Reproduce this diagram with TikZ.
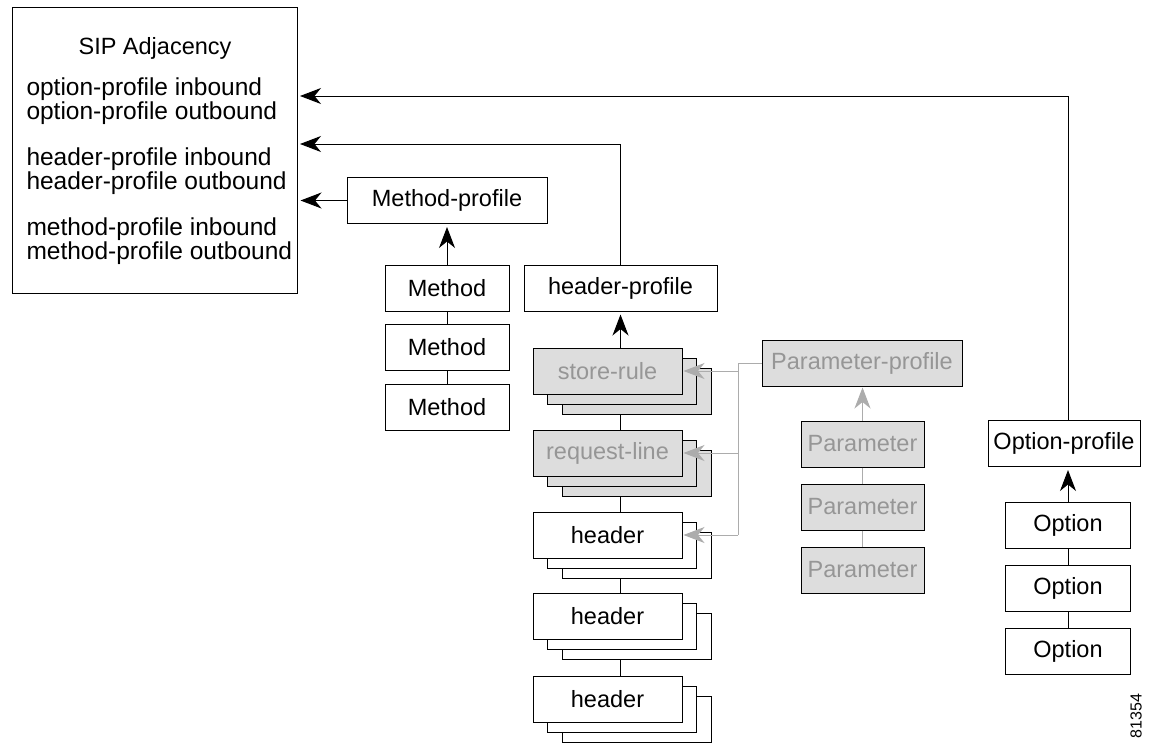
\documentclass[tikz,border=0pt]{standalone}
\usepackage{fontspec}
\setmainfont{Liberation Sans}
\usetikzlibrary{arrows.meta,positioning}

\definecolor{boxgrey}{RGB}{221,221,221}
\definecolor{txtgrey}{RGB}{150,150,150}
\definecolor{linegrey}{RGB}{172,172,172}

\tikzset{
  blk/.style={draw,fill=white,inner sep=0pt,minimum height=46pt},
  gblk/.style={blk,fill=boxgrey,text=txtgrey},
  arr/.style={-{Stealth[length=21pt,width=16pt,inset=6.5pt]},shorten >=3pt},
  garr/.style={arr,linegrey,shorten >=1pt},
  sipline/.style={align=left,anchor=west,inner sep=0pt,font=\fontsize{24.5}{22}\selectfont}
}

\begin{document}
\begin{tikzpicture}[x=1pt,y=-1pt,line width=1pt,font=\fontsize{23.5}{22}\selectfont]
\useasboundingbox (0,0) rectangle (1156,744);

% SIP Adjacency
\node[draw,minimum width=285pt,minimum height=286pt] (sip) at (154.5,150) {};
\node (siptitle) at (155,48) {SIP Adjacency};
\node[sipline] (sipopt) at (26,101) {option-profile inbound\\option-profile outbound};
\node[sipline] (siphdr) at (26,171) {header-profile inbound\\header-profile outbound};
\node[sipline] (sipmth) at (26,241) {method-profile inbound\\method-profile outbound};
\coordinate (optin) at (297,96);
\coordinate (hdrin) at (297,144);

% methods
\node[blk,minimum width=200pt] (mprof) at (447,200.5) {Method-profile};
\node[blk,minimum width=124pt] (m1) at (447,288) {Method};
\node[blk,minimum width=124pt] (m2) [below=12.5pt of m1] {Method};
\node[blk,minimum width=124pt] (m3) [below=12.5pt of m2] {Method};

% headers
\node[blk,minimum width=193pt] (hprof) at (620.5,288) {header-profile};

\node[gblk,minimum width=149pt] (sr3) at (636.5,391) {};
\node[gblk,minimum width=149pt] (sr2) at ([shift={(-14.5,-10)}]sr3) {};
\node[gblk,minimum width=149pt] (sr) at ([shift={(-14.5,-10)}]sr2) {store-rule};

\node[gblk,minimum width=149pt] (rl3) at (636.5,473) {};
\node[gblk,minimum width=149pt] (rl2) at ([shift={(-14.5,-10)}]rl3) {};
\node[gblk,minimum width=149pt] (rl) at ([shift={(-14.5,-10)}]rl2) {request-line};

\node[blk,minimum width=149pt] (ha3) at (636.5,555) {};
\node[blk,minimum width=149pt] (ha2) at ([shift={(-14.5,-10)}]ha3) {};
\node[blk,minimum width=149pt] (ha) at ([shift={(-14.5,-10)}]ha2) {header};

\node[blk,minimum width=149pt] (hb3) at (636.5,636.5) {};
\node[blk,minimum width=149pt] (hb2) at ([shift={(-14.5,-10)}]hb3) {};
\node[blk,minimum width=149pt] (hb) at ([shift={(-14.5,-10)}]hb2) {header};

\node[blk,minimum width=149pt] (hc3) at (636.5,719) {};
\node[blk,minimum width=149pt] (hc2) at ([shift={(-14.5,-10)}]hc3) {};
\node[blk,minimum width=149pt] (hc) at ([shift={(-14.5,-10)}]hc2) {header};

% parameters
\node[gblk,minimum width=200pt] (pprof) at (862,363) {Parameter-profile};
\node[gblk,minimum width=123pt] (p1) at (862.5,444) {Parameter};
\node[gblk,minimum width=123pt] (p2) [below=16pt of p1] {Parameter};
\node[gblk,minimum width=123pt] (p3) [below=16pt of p2] {Parameter};
\coordinate (bus) at (738,0);

% options
\node[blk,minimum width=152pt] (oprof) at (1064,443.5) {Option-profile};
\node[blk,minimum width=125pt] (o1) at (1068,525) {Option};
\node[blk,minimum width=125pt] (o2) [below=16pt of o1] {Option};
\node[blk,minimum width=125pt] (o3) [below=16pt of o2] {Option};

\node[rotate=90,inner sep=0pt,font=\fontsize{16}{16}\selectfont] (figno) at (1136,716) {81354};

% connectors
\draw[arr] (oprof.north -| o1.north) |- (optin);
\draw[arr] (hprof.north) |- (hdrin);
\draw[arr] (mprof.west) -- (mprof.west -| sip.east);
\draw[arr] (m1.north) -- (mprof.south);
\draw (m1) -- (m2);
\draw (m2) -- (m3);
\draw[arr] (hprof.south |- sr.north) -- (hprof.south);
\draw (hprof.south |- sr3.south) -- (hprof.south |- rl.north);
\draw (hprof.south |- rl3.south) -- (hprof.south |- ha.north);
\draw (hprof.south |- ha3.south) -- (hprof.south |- hb.north);
\draw (hprof.south |- hb3.south) -- (hprof.south |- hc.north);
\draw[arr] (o1.north) -- (oprof.south -| o1.north);
\draw (o1) -- (o2);
\draw (o2) -- (o3);
\draw[garr] (p1.north) -- (pprof.south -| p1.north);
\draw[linegrey] (p1) -- (p2);
\draw[linegrey] (p2) -- (p3);
\draw[linegrey] (pprof.west) -| (ha.east -| bus);
\draw[garr] (sr.east -| bus) -- (sr.east);
\draw[garr] (rl.east -| bus) -- (rl.east);
\draw[garr] (ha.east -| bus) -- (ha.east);

\end{tikzpicture}
\end{document}
